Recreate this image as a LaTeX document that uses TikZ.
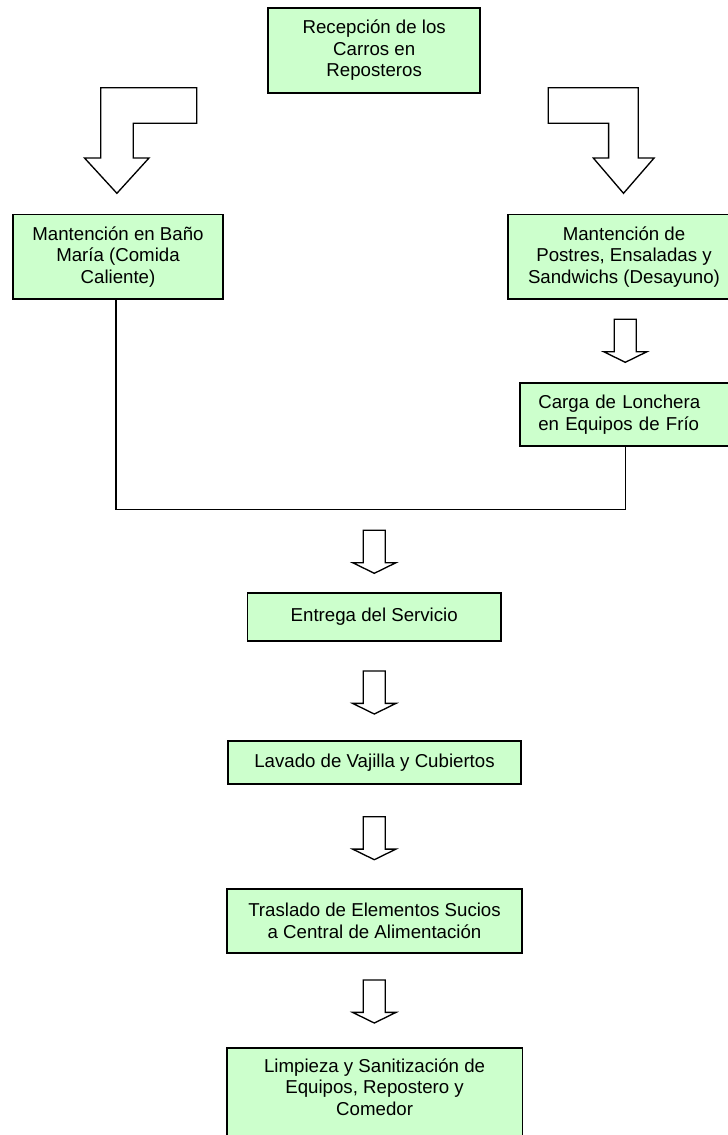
\documentclass[tikz,border=0pt]{standalone}
\usepackage{fontspec}
\setmainfont{Liberation Sans}
\definecolor{boxgreen}{RGB}{204,255,204}
\tikzset{
  flowbox/.style={draw=black, fill=boxgreen, line width=1.3pt, inner sep=0pt, align=center,
    font=\fontsize{14pt}{16.2pt}\selectfont},
  flowtext/.style={inner sep=0pt, align=center, font=\fontsize{14pt}{16.2pt}\selectfont},
  blockline/.style={draw=black, fill=white, line width=1pt, line join=miter},
  joinline/.style={draw=black, line width=1.1pt},
  blockarrow/.pic={\path[blockline] (-11,0) -- (11,0) -- (11,32.4) -- (21.65,32.4) -- (0,43) -- (-21.65,32.4) -- (-11,32.4) -- cycle;}
}
\begin{document}
\begin{tikzpicture}[x=0.75pt,y=-0.75pt]
\useasboundingbox (0,0) rectangle (728,1135);

% boxes
\node[flowbox, minimum width=158.8pt, minimum height=63.5pt] (recep) at (374.2,50.3)
  {Recepción de los\\Carros en\\Reposteros};
\node[flowbox, minimum width=158pt, minimum height=63.5pt] (bano) at (118,256.7)
  {Mantención en Baño\\María (Comida\\Caliente)};
\node[flowbox, minimum width=174pt, minimum height=63.5pt] (postres) at (624,256.7)
  {Mantención de\\Postres, Ensaladas y\\Sandwichs (Desayuno)};
\node[flowbox, align=left, text width=137.55pt, inner xsep=13.7pt, minimum height=47.25pt] (carga) at (630,414.8)
  {Carga de Lonchera\\en Equipos de Frío};
\node[flowbox, minimum width=190.1pt, minimum height=35.55pt] (entrega) at (374.25,617)
  {Entrega del Servicio};
\node[flowbox, minimum width=219.3pt, minimum height=32.5pt] (lavado) at (374.5,762.35)
  {Lavado de Vajilla y Cubiertos};
\node[flowbox, minimum width=221.7pt, minimum height=47.55pt] (traslado) at (374.5,921)
  {Traslado de Elementos Sucios\\a Central de Alimentación};
\node[flowbox, minimum width=221.85pt, minimum height=84.2pt] (limpieza) at (374.6,1103.85) {};
\node[flowtext] (limpiezatext) at (374.6,1087)
  {Limpieza y Sanitización de\\Equipos, Repostero y\\Comedor};

% bent block arrows
\path[blockline] (100.7,87.7) -- (196.8,87.7) -- (196.8,123.3) -- (133.2,123.3) -- (133.2,158)
  -- (149,158) -- (116.9,193.3) -- (84.5,158) -- (100.7,158) -- cycle;
\path[blockline] (548.3,87.7) -- (638.3,87.7) -- (638.3,158) -- (654.1,158) -- (623.5,193.3)
  -- (593.3,158) -- (608.6,158) -- (608.6,123.3) -- (548.3,123.3) -- cycle;

% straight block arrows
\pic at (625.3,319.3) {blockarrow};
\pic at (374.3,530.3) {blockarrow};
\pic at (374.3,671) {blockarrow};
\pic at (374.3,816.7) {blockarrow};
\pic at (374.3,980) {blockarrow};

% joining connector
\coordinate (mergeL) at (116,509.3);
\coordinate (mergeR) at (625.7,509.3);
\draw[joinline] (bano.south -| mergeL) -- (mergeL) -- (mergeR) -- (carga.south -| mergeR);
\end{tikzpicture}
\end{document}
